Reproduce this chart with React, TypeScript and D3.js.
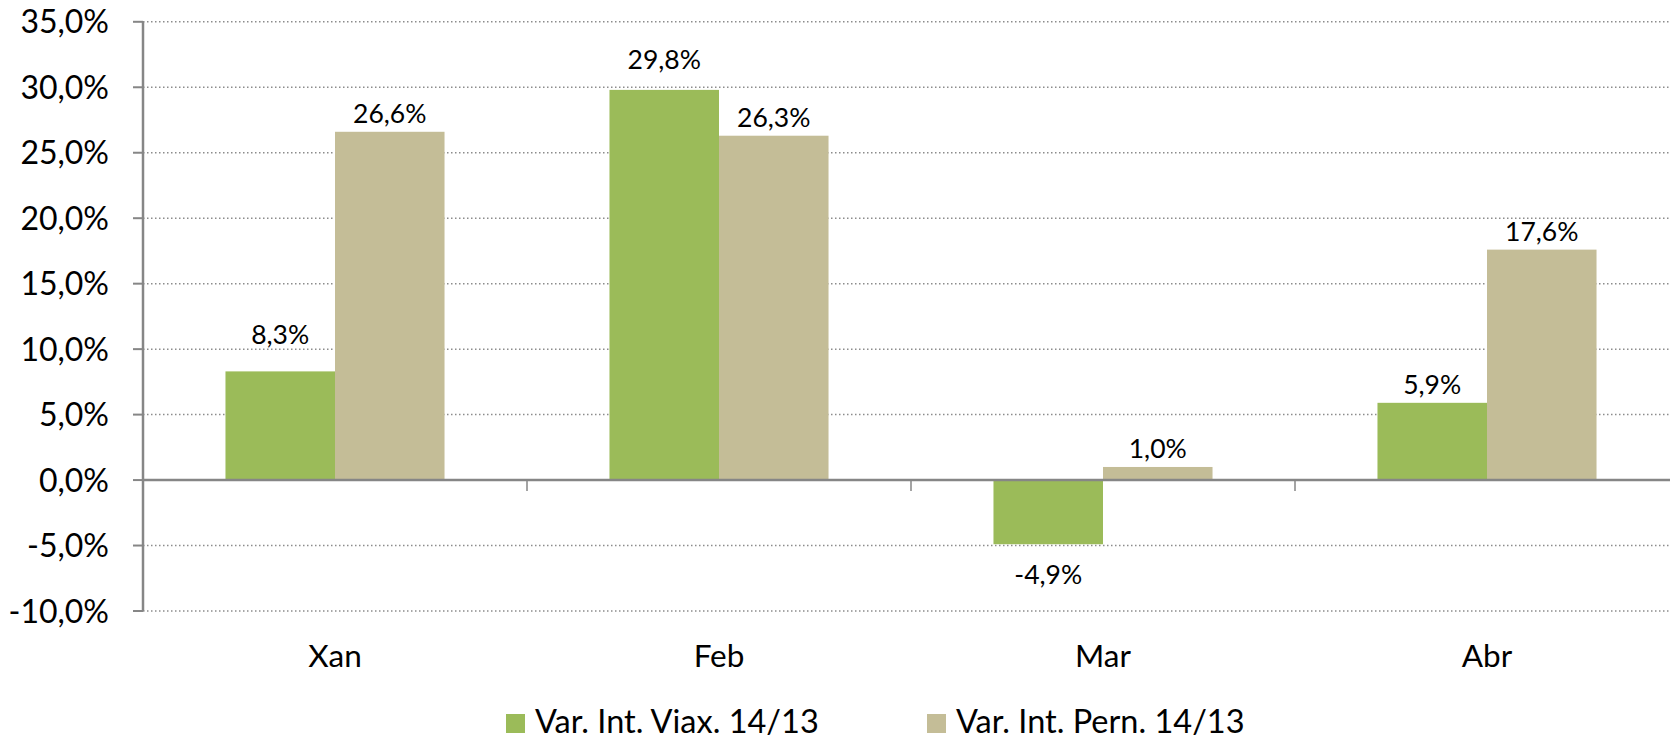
import { useEffect, useRef } from "react";
import * as d3 from "d3";

// chart values
const categories = ["Xan", "Feb", "Mar", "Abr"];
const seriesNames = ["Var. Int. Viax. 14/13", "Var. Int. Pern. 14/13"];
const viaxValues = [8.3, 29.8, -4.9, 5.9];
const pernValues = [26.6, 26.3, 1.0, 17.6];
const yTicks = [-10, -5, 0, 5, 10, 15, 20, 25, 30, 35];
const colors = ["#9BBB59", "#C4BD97"];

const fmt = (v: number) => v.toFixed(1).replace(".", ",") + "%";

export default function App() {
  const ref = useRef<SVGSVGElement>(null);

  useEffect(() => {
    if (!ref.current) return;
    const svg = d3.select(ref.current);
    svg.selectAll("*").remove();

    const width = 1670;
    const left = 143;
    const step = 384;
    const font = "Lato, 'Open Sans', sans-serif";
    // a couple of labels were moved by hand in the original
    const labelNudge = [
      [18, 12, 0, 0],
      [0, 0, 0, 0],
    ];

    const x = d3
      .scaleBand<string>()
      .domain(categories)
      .range([left, left + step * categories.length])
      .padding(0);

    const xSub = d3
      .scaleBand<number>()
      .domain([0, 1])
      .range([0, step])
      .paddingInner(0)
      .paddingOuter(0.753);

    const y = d3.scaleLinear().domain([-10, 35]).range([611, 21.8]);

    // grid lines (dotted)
    svg
      .append("g")
      .selectAll("line")
      .data(yTicks.filter((t) => t !== 0))
      .enter()
      .append("line")
      .attr("x1", left)
      .attr("x2", width)
      .attr("y1", (d) => y(d))
      .attr("y2", (d) => y(d))
      .attr("stroke", "#8c8c8c")
      .attr("stroke-width", 1.5)
      .attr("stroke-dasharray", "1.5,2.5");

    // bars
    const rows = categories.map((c, i) => ({ c, i, vals: [viaxValues[i], pernValues[i]] }));
    const groups = svg
      .append("g")
      .selectAll("g")
      .data(rows)
      .enter()
      .append("g")
      .attr("transform", (d) => `translate(${x(d.c)},0)`);

    groups
      .selectAll("rect")
      .data((d) => d.vals.map((v, k) => ({ v, k, i: d.i })))
      .enter()
      .append("rect")
      .attr("x", (d) => xSub(d.k) as number)
      .attr("width", xSub.bandwidth())
      .attr("y", (d) => Math.min(y(d.v), y(0)))
      .attr("height", (d) => Math.abs(y(d.v) - y(0)))
      .attr("fill", (d) => colors[d.k]);

    groups
      .selectAll("text")
      .data((d) => d.vals.map((v, k) => ({ v, k, i: d.i })))
      .enter()
      .append("text")
      .attr("x", (d) => (xSub(d.k) as number) + xSub.bandwidth() / 2)
      .attr("y", (d) =>
        d.v >= 0 ? y(d.v) - 9 - labelNudge[d.k][d.i] : y(d.v) + 40
      )
      .attr("text-anchor", "middle")
      .style("font-family", font)
      .style("font-size", "26.5px")
      .style("fill", "#000")
      .text((d) => fmt(d.v));

    // y axis
    svg
      .append("line")
      .attr("x1", left)
      .attr("x2", left)
      .attr("y1", y(35))
      .attr("y2", y(-10))
      .attr("stroke", "#868686")
      .attr("stroke-width", 2.5);

    const yAxis = svg.append("g");
    yAxis
      .selectAll("line")
      .data(yTicks)
      .enter()
      .append("line")
      .attr("x1", left - 10)
      .attr("x2", left)
      .attr("y1", (d) => y(d))
      .attr("y2", (d) => y(d))
      .attr("stroke", "#868686")
      .attr("stroke-width", 2);
    yAxis
      .selectAll("text")
      .data(yTicks)
      .enter()
      .append("text")
      .attr("x", 109)
      .attr("y", (d) => y(d) + 11.5)
      .attr("text-anchor", "end")
      .style("font-family", font)
      .style("font-size", "32px")
      .style("fill", "#000")
      .text((d) => fmt(d));

    // zero line + category ticks
    svg
      .append("line")
      .attr("x1", left)
      .attr("x2", width)
      .attr("y1", y(0))
      .attr("y2", y(0))
      .attr("stroke", "#868686")
      .attr("stroke-width", 2.5);

    svg
      .append("g")
      .selectAll("line")
      .data(categories.slice(1))
      .enter()
      .append("line")
      .attr("x1", (d) => x(d) as number)
      .attr("x2", (d) => x(d) as number)
      .attr("y1", y(0))
      .attr("y2", y(0) + 11)
      .attr("stroke", "#868686")
      .attr("stroke-width", 1.5);

    svg
      .append("g")
      .selectAll("text")
      .data(categories)
      .enter()
      .append("text")
      .attr("x", (d) => (x(d) as number) + step / 2)
      .attr("y", 667)
      .attr("text-anchor", "middle")
      .style("font-family", font)
      .style("font-size", "31.5px")
      .style("fill", "#000")
      .text((d) => d);

    // legend
    const legendX = [506, 927];
    const legend = svg
      .append("g")
      .selectAll("g")
      .data(seriesNames)
      .enter()
      .append("g")
      .attr("transform", (_, i) => `translate(${legendX[i]},714)`);
    legend
      .append("rect")
      .attr("width", 19)
      .attr("height", 19)
      .attr("fill", (_, i) => colors[i]);
    legend
      .append("text")
      .attr("x", 29)
      .attr("y", 19)
      .style("font-family", font)
      .style("font-size", "32.5px")
      .style("fill", "#000")
      .text((d) => d);
  }, []);

  return (
    <svg
      ref={ref}
      width={1670}
      height={739}
      style={{ position: "absolute", left: 0, top: 0, background: "#fff" }}
    />
  );
}
